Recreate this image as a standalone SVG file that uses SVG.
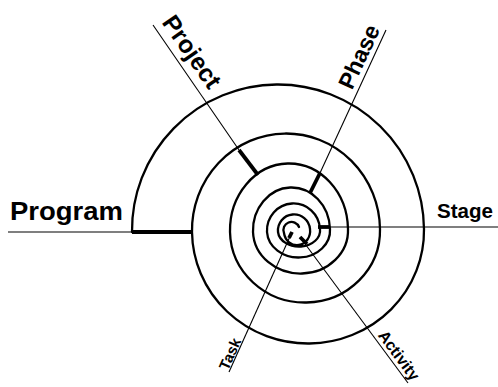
<svg xmlns="http://www.w3.org/2000/svg" width="498" height="387" viewBox="0 0 498 387">
<style>
.sp{fill:none;stroke:#000;stroke-width:2.3;stroke-linecap:round}
.th{fill:none;stroke:#000;stroke-width:1.1}
.tk{fill:none;stroke:#000;stroke-width:3.8;stroke-linecap:butt}
.lb{font-family:"Liberation Sans",Arial,sans-serif;font-weight:bold;fill:#000}
</style>
<rect width="498" height="387" fill="#fff"/>
<g id="spiral">
<path class="sp" d="M132,232 A146,146 0 0 1 424,229 A116,113 0 0 1 192,232 A94,97 0 0 1 380,229 A75,72 0 0 1 230,232 A59,67 0 0 1 348,229 A47.5,43 0 0 1 253,232 A38.5,43 0 0 1 330,229 A31.5,27 0 0 1 267,232 A26.5,27 0 0 1 320,229 A21,16 0 0 1 278,232 A16,16 0 0 1 310,229 A13,14 0 0 1 284,233 A8,8 0 0 1 299,227"/>
</g>
<g id="connectors">
<line class="th" x1="8" y1="232" x2="132" y2="232"/>
<line class="tk" x1="132" y1="232" x2="192" y2="232"/>
<line class="th" x1="153" y1="25" x2="239" y2="150"/>
<line class="tk" x1="239" y1="150" x2="258" y2="175"/>
<line class="th" x1="386" y1="30" x2="320" y2="173"/>
<line class="tk" x1="320" y1="173" x2="310" y2="193"/>
<line class="th" x1="330" y1="227" x2="498" y2="227"/>
<line class="tk" x1="318" y1="227" x2="330" y2="227"/>
<line class="th" x1="300" y1="237" x2="408" y2="383"/>
<line class="tk" x1="300" y1="237" x2="307" y2="244"/>
<line class="th" x1="292" y1="232" x2="229" y2="372"/>
<line class="tk" x1="292" y1="232" x2="289" y2="238"/>
</g>
<g id="program"><text class="lb" x="10" y="220" font-size="26" textLength="113" lengthAdjust="spacingAndGlyphs">Program</text></g>
<g id="project"><text class="lb" font-size="24.5" text-anchor="middle" transform="translate(185,56.5) rotate(55)">Project</text></g>
<g id="phase"><text class="lb" font-size="23" text-anchor="middle" transform="translate(366.2,60) rotate(-65)">Phase</text></g>
<g id="stage"><text class="lb" x="437" y="218" font-size="19.5" textLength="56" lengthAdjust="spacingAndGlyphs">Stage</text></g>
<g id="task"><text class="lb" font-size="15" text-anchor="middle" transform="translate(234.7,356.1) rotate(-65.8)">Task</text></g>
<g id="activity"><text class="lb" font-size="16" text-anchor="middle" transform="translate(394.6,358.6) rotate(53.5)">Activity</text></g>
</svg>
